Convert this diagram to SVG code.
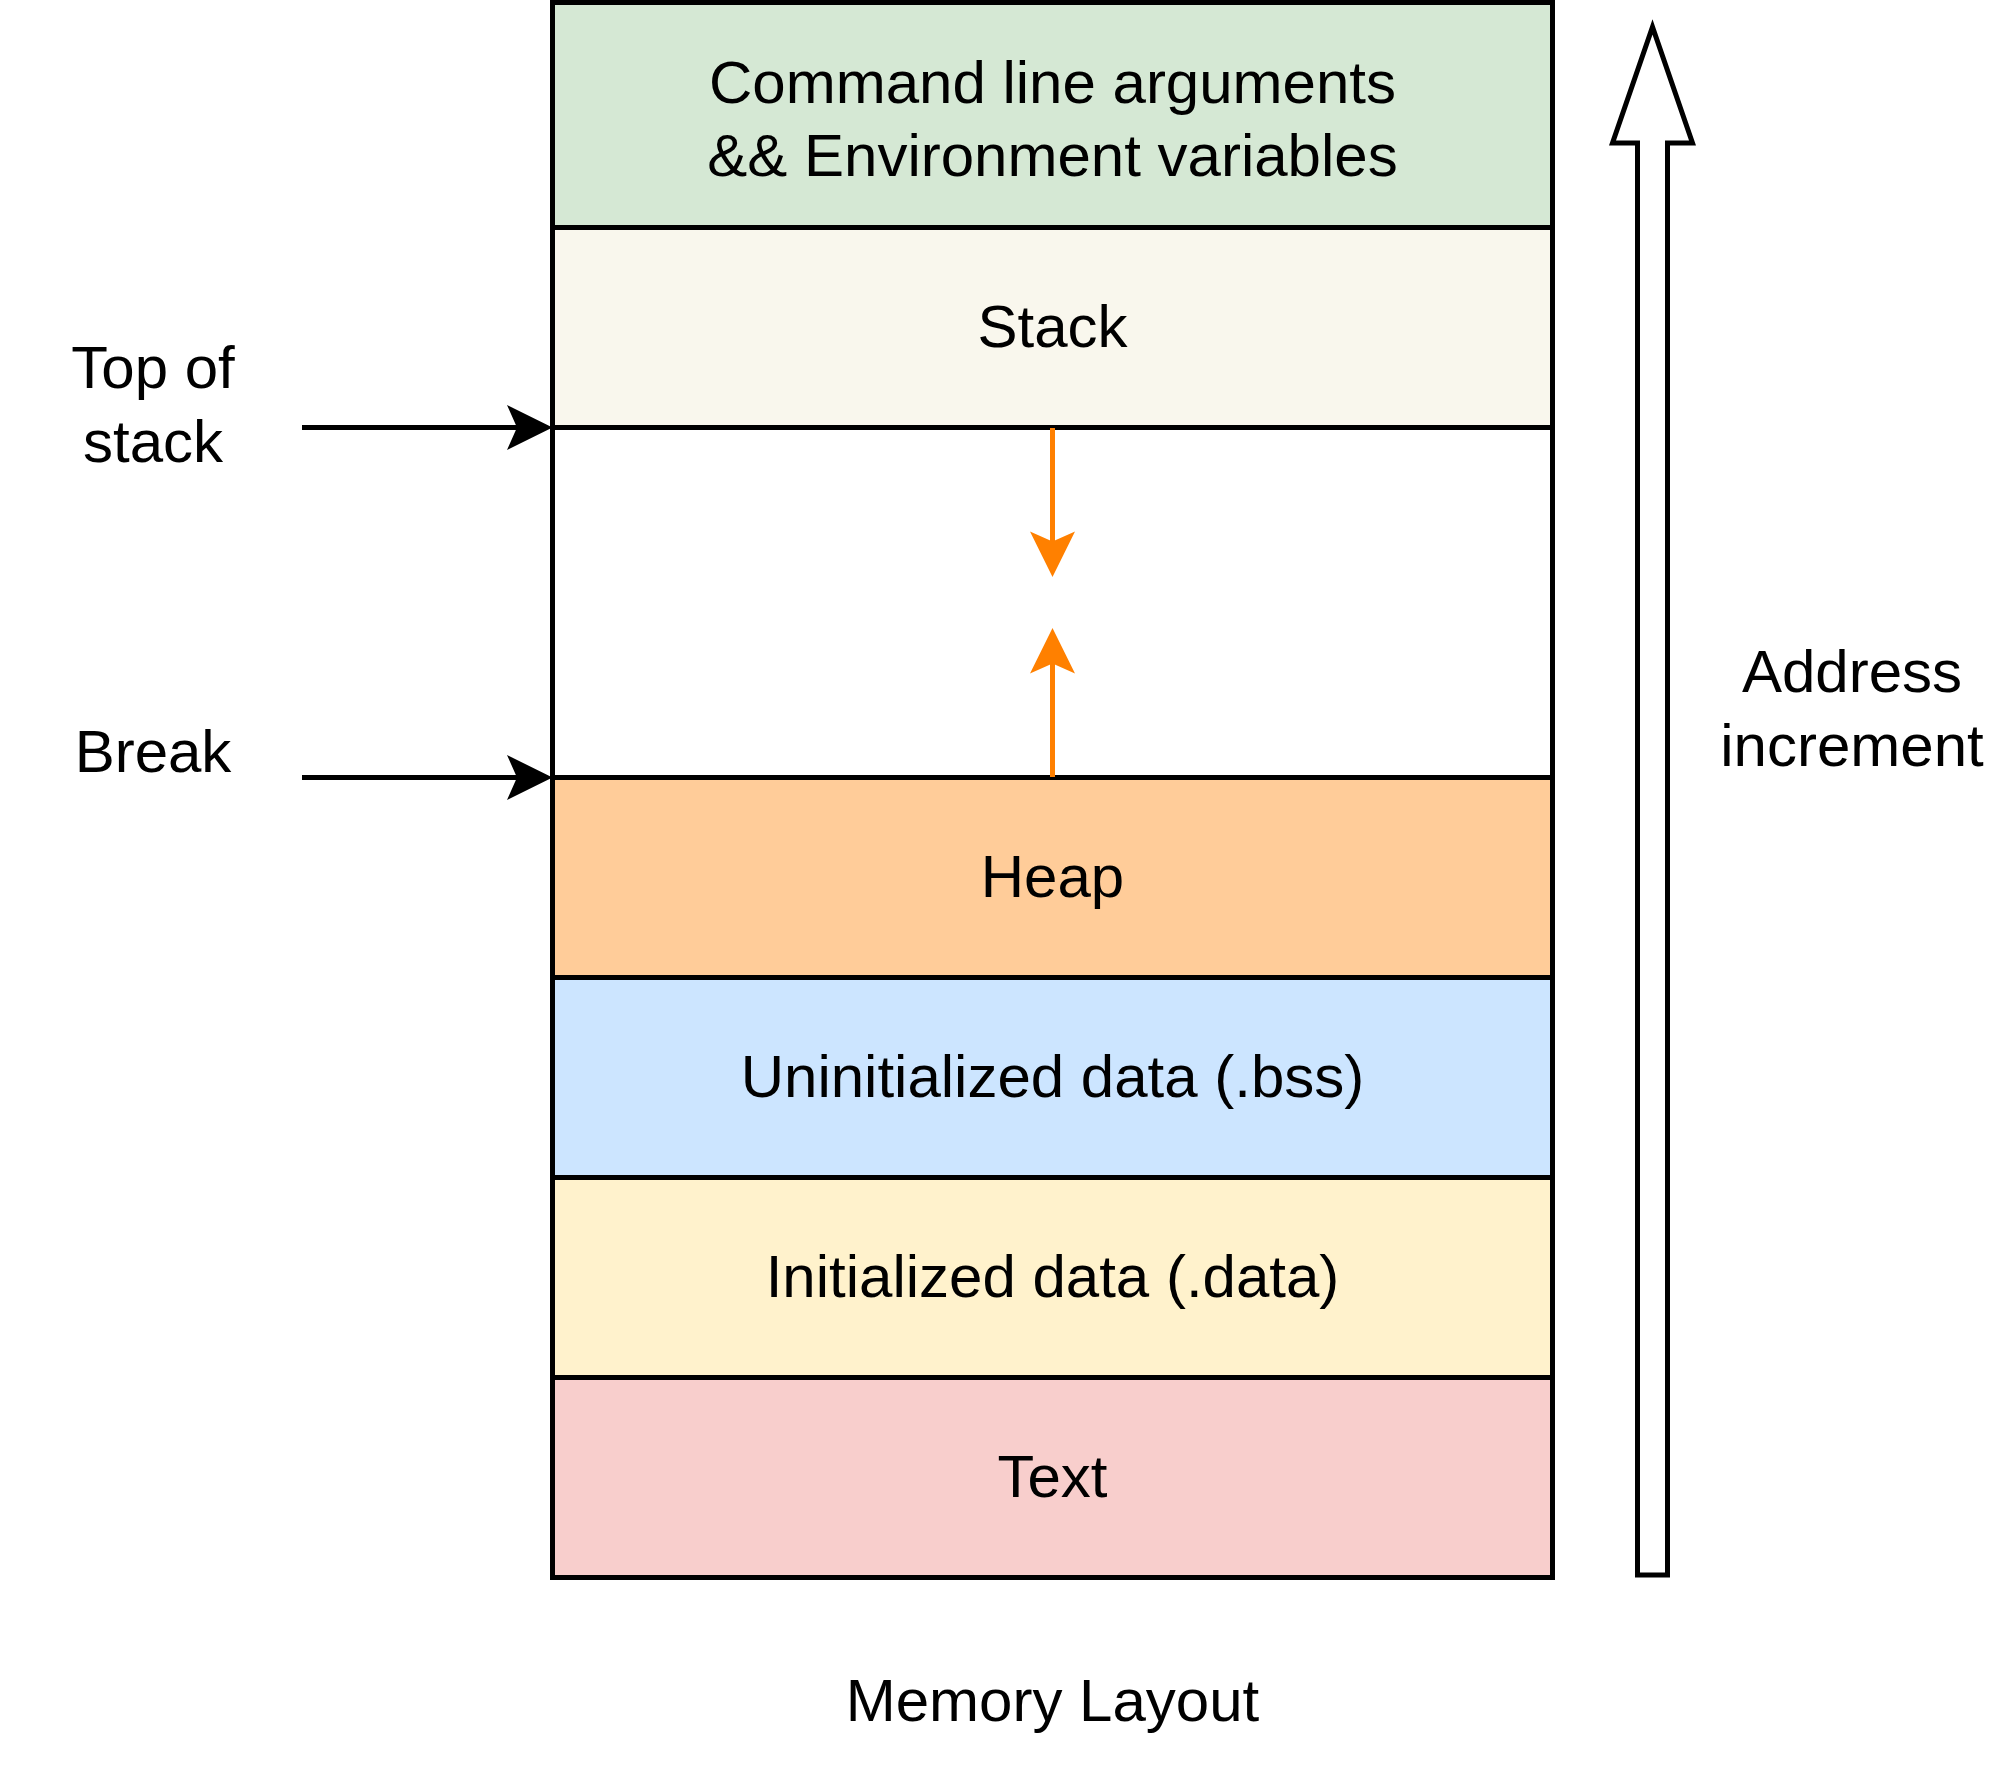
<svg xmlns="http://www.w3.org/2000/svg" width="2000" height="1780" viewBox="0 0 2000 1780">
<style>
  .seg { stroke: #000000; stroke-width: 5; }
  .lbl { font-family: "Liberation Sans", Arial, sans-serif; font-size: 60px; fill: #000000; text-anchor: middle; }
  .blk { stroke: #000000; stroke-width: 5; fill: none; }
  .org { stroke: #FF8000; stroke-width: 5; fill: none; }
</style>
<rect x="0" y="0" width="2000" height="1780" fill="#ffffff"/>
<g id="node-args">
  <rect class="seg" x="552.5" y="2.5" width="1000" height="225" fill="#d5e8d4"/>
  <text class="lbl" x="1052.5" y="103">Command line arguments</text>
  <text class="lbl" x="1052.5" y="176">&amp;&amp; Environment variables</text>
</g>
<g id="node-stack">
  <rect class="seg" x="552.5" y="227.5" width="1000" height="200" fill="#f9f7ed"/>
  <text class="lbl" x="1052.5" y="347">Stack</text>
</g>
<g id="node-free">
  <rect class="seg" x="552.5" y="427.5" width="1000" height="350" fill="#ffffff"/>
</g>
<g id="node-heap">
  <rect class="seg" x="552.5" y="777.5" width="1000" height="200" fill="#ffcc99"/>
  <text class="lbl" x="1052.5" y="897">Heap</text>
</g>
<g id="node-bss">
  <rect class="seg" x="552.5" y="977.5" width="1000" height="200" fill="#cce5ff"/>
  <text class="lbl" x="1052.5" y="1097">Uninitialized data (.bss)</text>
</g>
<g id="node-data">
  <rect class="seg" x="552.5" y="1177.5" width="1000" height="200" fill="#fff2cc"/>
  <text class="lbl" x="1052.5" y="1297">Initialized data (.data)</text>
</g>
<g id="node-text">
  <rect class="seg" x="552.5" y="1377.5" width="1000" height="200" fill="#f8cecc"/>
  <text class="lbl" x="1052.5" y="1497">Text</text>
</g>
<g id="label-top-of-stack">
  <text class="lbl" x="153" y="388">Top of</text>
  <text class="lbl" x="153" y="462">stack</text>
</g>
<g id="label-break">
  <text class="lbl" x="153" y="772">Break</text>
</g>
<g id="label-address">
  <text class="lbl" x="1852" y="692">Address</text>
  <text class="lbl" x="1852" y="766">increment</text>
</g>
<g id="label-title">
  <text class="lbl" x="1052.5" y="1721">Memory Layout</text>
</g>
<g id="connectors">
  <line class="blk" x1="302" y1="427.5" x2="518" y2="427.5"/>
  <polygon points="552.5,427.5 507,405 517,427.5 507,450" fill="#000000"/>
  <line class="blk" x1="302" y1="777.5" x2="518" y2="777.5"/>
  <polygon points="552.5,777.5 507,755 517,777.5 507,800" fill="#000000"/>
  <line class="org" x1="1052.5" y1="428" x2="1052.5" y2="543"/>
  <polygon points="1052.5,577 1030,531.5 1052.5,541.5 1075,531.5" fill="#FF8000"/>
  <line class="org" x1="1052.5" y1="777" x2="1052.5" y2="662"/>
  <polygon points="1052.5,628 1030,673.5 1052.5,663.5 1075,673.5" fill="#FF8000"/>
  <polygon class="blk" fill="#ffffff" points="1637.5,1575 1637.5,143 1612.5,143 1652.5,27 1692.5,143 1667.5,143 1667.5,1575"/>
</g>
</svg>
